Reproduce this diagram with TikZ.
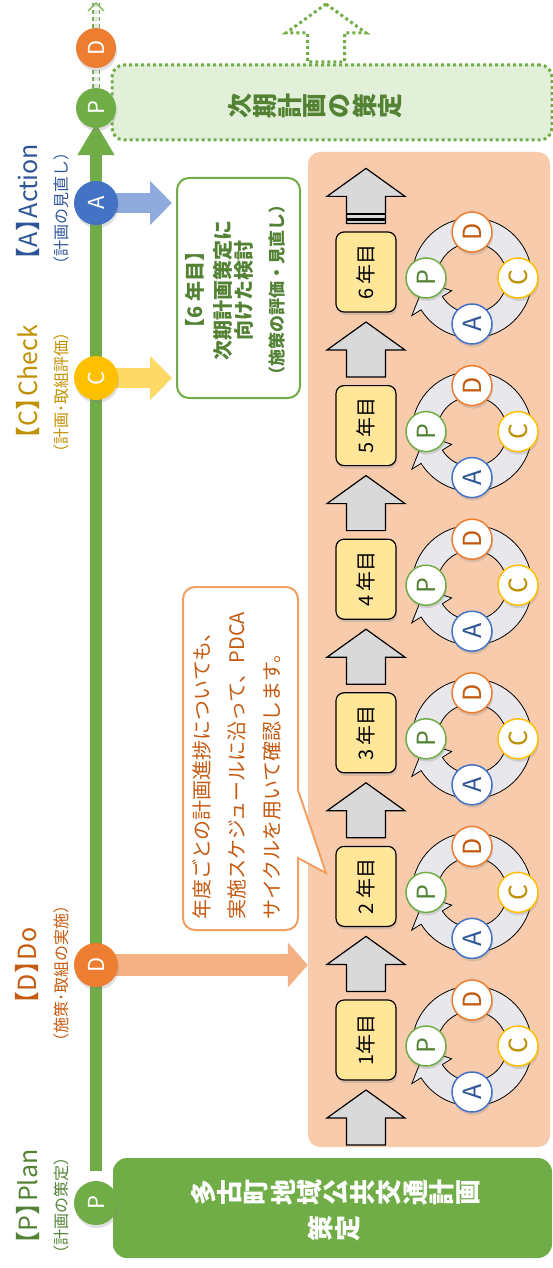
\documentclass[tikz,border=0pt]{standalone}
\usepackage{fontspec}
\setmainfont{Noto Sans CJK JP}
\usetikzlibrary{arrows.meta,calc,shadows,positioning}

\pgfdeclarelayer{background}
\pgfsetlayers{background,main}

\definecolor{mgreen}{HTML}{70AD47}
\definecolor{dgreen}{HTML}{548235}
\definecolor{lgreen}{HTML}{E2F0D9}
\definecolor{morange}{HTML}{ED7D31}
\definecolor{dorange}{HTML}{C55A11}
\definecolor{lorange}{HTML}{F4B183}
\definecolor{corange}{HTML}{F0A062}
\definecolor{salmon}{HTML}{F8CBAD}
\definecolor{myellow}{HTML}{FFC000}
\definecolor{dyellow}{HTML}{BF9000}
\definecolor{lyellow}{HTML}{FFD966}
\definecolor{mblue}{HTML}{4472C4}
\definecolor{dblue}{HTML}{2F5597}
\definecolor{lblue}{HTML}{8FAADC}
\definecolor{yearfill}{HTML}{FFE699}
\definecolor{arrowgrey}{HTML}{D9D9D9}
\definecolor{ringgrey}{HTML}{E8E8EC}

\newcommand{\brk}[1]{【#1】\kern-.45em}
\newcommand{\tlfont}{\fontsize{22}{22}\selectfont}

\tikzset{
    shadowed/.style={drop shadow={shadow xshift=1pt,shadow yshift=-3pt,opacity=.25}},
    tlcirc/.style={circle,minimum size=44pt,inner sep=0pt,text=white,rotate=90,
        font=\tlfont,shadowed},
    pdc/.style={circle,minimum size=40pt,inner sep=0pt,fill=white,line width=1.5pt,
        rotate=90,font=\fontsize{25}{25}\selectfont,shadowed},
    yearbox/.style={rounded corners=8pt,draw=black,line width=1.2pt,fill=yearfill,
        minimum width=80pt,minimum height=60pt,inner sep=0pt,rotate=90,
        font=\fontsize{20}{20}\selectfont,shadowed},
    greyarrow/.style={fill=arrowgrey,draw=black,line width=1.2pt,line join=miter},
    ring/.style={fill=ringgrey,draw=black,line width=0.8pt},
    lbl/.style={rotate=90,inner sep=0pt,font=\fontsize{25}{25}\selectfont},
    sublbl/.style={rotate=90,inner sep=0pt,font=\fontsize{16}{16}\selectfont},
    dots/.style={draw=mgreen,line width=3pt,dash pattern=on 3pt off 3pt},
    fatarrow/.style={line width=20pt,-{Triangle[width=43pt,length=22pt]}}
}

\begin{document}
\begin{tikzpicture}[x=1pt,y=-1pt]
    \useasboundingbox (0,0) rectangle (553,1268);

    % Panels.
    \node[fill=salmon,rounded corners=12pt,minimum width=242pt,minimum height=995pt,
        inner sep=0pt] (panel) at (429,649.5) {};
    \node[fill=mgreen,rounded corners=14pt,minimum width=439pt,minimum height=100pt,
        inner sep=0pt] (plan0) at (332.5,1208) {};
    \node[dots,fill=lgreen,rounded corners=12pt,minimum width=440pt,minimum height=75pt,
        inner sep=0pt] (nextplan) at (332,102.5) {};
    \draw[dots] (326,4) -- (366,33) -- (344.5,33) -- (344.5,62) -- (307.5,62)
        -- (307.5,33) -- (286,33) -- cycle;

    % Vertical texts.
    \foreach \ch [count=\i] in {多,古,町,地,域,公,共,交,通,計,画}
        \node[rotate=90,inner sep=0pt,text=white,font=\fontsize{26}{26}\selectfont\bfseries]
            (ta\i) at ({336+(\i-6)*26.5},1192) {\ch};
    \foreach \ch [count=\i] in {策,定}
        \node[rotate=90,inner sep=0pt,text=white,font=\fontsize{26}{26}\selectfont\bfseries]
            (tb\i) at ({334+(\i-1.5)*26.5},1228) {\ch};
    \foreach \ch [count=\i] in {次,期,計,画,の,策,定}
        \node[rotate=90,inner sep=0pt,text=dgreen,font=\fontsize{25}{25}\selectfont\bfseries]
            (tn\i) at ({315+(\i-4)*25},106) {\ch};

    % Yearly steps.
    \foreach \k in {1,...,7}
        \draw[greyarrow] (366,{1090-153.6*(\k-1)}) -- ++(39,28) -- ++(-19.5,0) -- ++(0,27)
            -- ++(-39,0) -- ++(0,-27) -- ++(-19.5,0) -- cycle;
    \draw[line width=2.5pt] (346.5,214) -- (385.5,214);
    \draw[line width=2.5pt] (346.5,219.5) -- (385.5,219.5);
    \foreach \k/\y in {1/1年目,2/2 年目,3/3 年目,4/4 年目,5/5 年目,6/6 年目}
        \node[yearbox] (yr\k) at (366,{1040-153.6*(\k-1)}) {\y};

    % PDCA cycles.
    \foreach \k in {1,...,6}{
        \coordinate (cyc\k) at (472,{1046-153.6*(\k-1)});
        \draw[ring] ($(cyc\k)+(192:60)$) arc[start angle=192,end angle=508,radius=60]
            -- ($(cyc\k)+(508:71)$) -- ($(cyc\k)+(535:47)$) -- ($(cyc\k)+(508:24)$)
            -- ($(cyc\k)+(508:35)$) arc[start angle=508,end angle=192,radius=35] -- cycle;
        \node[pdc,draw=mgreen,text=dgreen] (p\k) at ($(cyc\k)+(-46,0)$) {P};
        \node[pdc,draw=morange,text=dorange] (d\k) at ($(cyc\k)+(0,-46)$) {D};
        \node[pdc,draw=myellow,text=dyellow] (c\k) at ($(cyc\k)+(46,0)$) {C};
        \node[pdc,draw=mblue,text=dblue] (a\k) at ($(cyc\k)+(0,46)$) {A};
    }

    % Callout and review box.
    \draw[corange,line width=2pt,fill=white] (326,873) -- (298,790)
        {[rounded corners=12pt] -- (298,587) -- (183,587) -- (183,930) -- (298,930)}
        -- (298,858) -- cycle;
    \node[rotate=90,inner sep=0pt,text=dorange,align=left,
        font=\fontsize{20}{35}\selectfont] (calltxt) at (237,766)
        {年度ごとの計画進捗についても、\\実施スケジュールに沿って、PDCA\\サイクルを用いて確認します。};
    \node[draw=mgreen,line width=2pt,fill=white,rounded corners=12pt,minimum width=123pt,
        minimum height=220pt,inner sep=0pt] (plan6) at (238.5,288) {};
    \node[rotate=90,inner sep=0pt,text=dgreen,align=center,
        font=\fontsize{20}{21}\selectfont\bfseries] (plan6txt) at (235,290)
        {【6 年目】\\[7pt]次期計画策定に\\向けた検討\\[11pt]{\fontsize{17}{17}\selectfont （施策の評価・見直し）}};

    % Timeline circles and labels.
    \node[tlcirc,fill=mgreen] (tP1) at (96,1203) {\tlfont P};
    \node[tlcirc,fill=morange] (tD1) at (96,965) {\tlfont D};
    \node[tlcirc,fill=myellow] (tC) at (96,378) {\tlfont C};
    \node[tlcirc,fill=mblue] (tA) at (96,203) {\tlfont A};
    \node[tlcirc,fill=mgreen,minimum size=40pt] (tP2) at (96,108) {\tlfont P};
    \node[tlcirc,fill=morange,minimum size=40pt] (tD2) at (96,48) {\tlfont D};
    \coordinate (tEnd) at (96,3);

    \node[lbl,text=dgreen] (lP) at (28,1203) {\brk{P}Plan};
    \node[sublbl,text=dgreen] (lPs) at (61,1205) {（計画の策定）};
    \node[lbl,text=dorange] (lD) at (27,972) {\brk{D}Do};
    \node[sublbl,text=dorange] (lDs) at (61,973) {（施策･取組の実施）};
    \node[lbl,text=dyellow] (lC) at (28,388) {\brk{C}Check};
    \node[sublbl,text=dyellow] (lCs) at (61,392) {（計画･取組評価）};
    \node[lbl,text=dblue] (lA) at (28,208) {\brk{A}Action};
    \node[sublbl,text=dblue] (lAs) at (61,208) {（計画の見直し）};

    % Connectors behind the circles.
    \begin{pgfonlayer}{background}
        \draw[mgreen,line width=12pt,-{Triangle[width=35pt,length=32pt]},
            shorten <=10pt,shorten >=-5pt] (tP1) -- (tP2);
        \draw[mgreen,line width=1.5pt,dash pattern=on 4pt off 3pt,double=black!10,
            double distance=5pt] (tP2) -- (tD2);
        \draw[mgreen,line width=1.5pt,dash pattern=on 4pt off 3pt,double=black!10,
            double distance=5pt] (tD2) -- (tEnd);
        \draw[mgreen!80,line width=1.5pt] (88,11) -- (tEnd) -- (104,11);
        \draw[lorange,line width=22pt,-{Triangle[width=44pt,length=20pt]}]
            (tD1.center) -- (panel.west |- tD1.center);
        \draw[fatarrow,lyellow,shorten >=4pt] (tC.center) -- (plan6.west |- tC.center);
        \draw[fatarrow,lblue,shorten >=4pt] (tA.center) -- (plan6.west |- tA.center);
    \end{pgfonlayer}
\end{tikzpicture}
\end{document}
